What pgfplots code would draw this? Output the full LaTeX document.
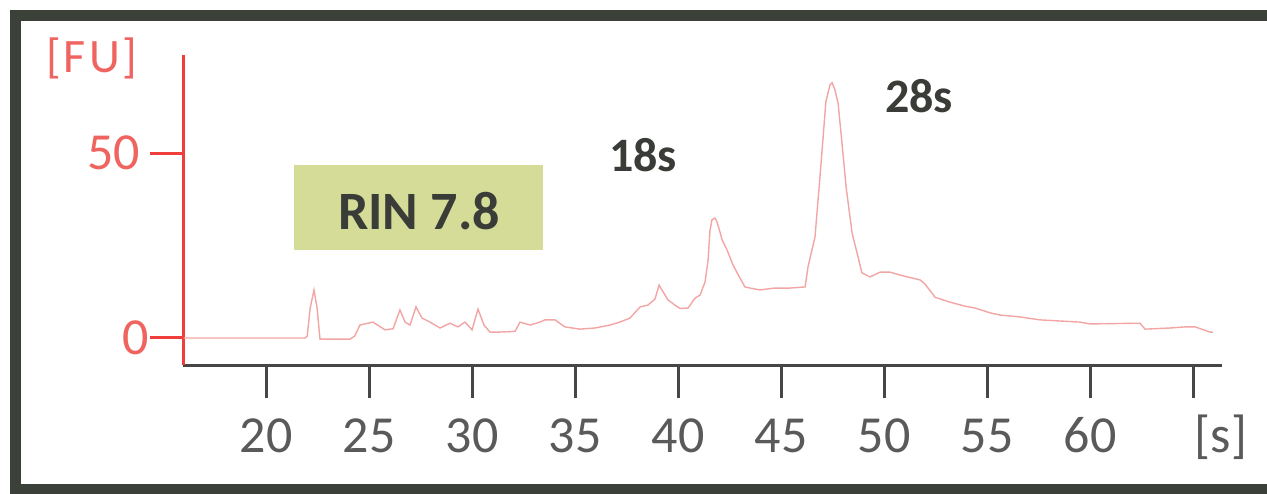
\documentclass[border=0pt]{standalone}
\usepackage{pgfplots}
\pgfplotsset{compat=1.18}
\usepackage{fontspec}
\setmainfont{Carlito}
\definecolor{framec}{RGB}{59,64,56}
\definecolor{axred}{RGB}{240,62,60}
\definecolor{labred}{RGB}{240,100,95}
\definecolor{trace}{RGB}{243,165,165}
\definecolor{axgray}{RGB}{70,70,70}
\definecolor{labgray}{RGB}{90,90,90}
\definecolor{boxfill}{RGB}{213,220,152}
\definecolor{txtdark}{RGB}{58,60,56}
\begin{document}
\begin{tikzpicture}
\begin{scope}[x=0.5bp,y=-0.5bp]
\path[use as bounding box] (0,0) rectangle (1267,494);
\fill[white] (0,0) rectangle (1267,494);
\fill[framec] (10,10) rectangle (1267,21);
\fill[framec] (10,10) rectangle (21,494);
\fill[framec] (10,484) rectangle (1267,494);
\fill[boxfill] (294,165) rectangle (543,250);
\end{scope}
\begin{axis}[
  at={(91.5bp,-182.5bp)}, anchor=south west,
  scale only axis, width=519.5bp, height=155bp,
  xmin=15.97, xmax=66.41, ymin=-7.30, ymax=76.49,
  axis x line*=bottom, axis y line*=left,
  x axis line style={-, draw=axgray, line width=1.5bp},
  y axis line style={-, draw=axred, line width=1.5bp},
  xtick={20,25,30,35,40,45,50,55,60,65},
  xticklabels={20,25,30,35,40,45,50,55,60,{}},
  ytick={0,50}, yticklabels={0\kern-4.5bp,50},
  tick align=outside, major tick length=16.5bp,
  x tick style={draw=axgray, line width=1.5bp},
  y tick style={draw=axred, line width=1.5bp},
  xticklabel style={font=\fontsize{26bp}{30bp}\selectfont, text=labgray, anchor=base, yshift=-27bp},
  yticklabel style={font=\fontsize{26bp}{30bp}\selectfont, text=labred, anchor=east, xshift=-1.5bp},
  clip=false,
]
\addplot[trace, line width=0.7bp, no marks] coordinates {
(16.0,0) (21.9,0) (22.0,0.5) (22.14,8) (22.33,13) (22.48,8) (22.62,-0.3)
(24.08,-0.3) (24.3,0.5) (24.56,3.5) (25.19,4.3) (25.78,2.2) (26.17,2.5)
(26.5,7.6) (26.75,4.3) (26.99,3.5) (27.28,8.4) (27.57,5.4) (27.96,4.3)
(28.45,2.7) (28.93,4.0) (29.32,3.0) (29.66,4.3) (30.0,2.2) (30.29,7.8)
(30.58,3.5) (30.87,1.6) (31.36,1.6) (32.09,1.8) (32.33,4.3) (32.82,3.5)
(33.30,4.3) (33.54,4.9) (34.03,4.9) (34.51,3.0) (35.24,2.4) (35.97,2.7)
(36.70,3.5) (37.18,4.3) (37.67,5.4) (38.16,8.4) (38.54,8.9) (38.88,10.5)
(39.08,14.3) (39.22,13) (39.51,10.3) (39.85,8.9) (40.10,8.0) (40.49,8.1)
(40.83,10.8) (41.07,11.6) (41.31,15.1) (41.46,21) (41.55,29) (41.65,32)
(41.80,32.4) (41.89,31.4) (42.04,28.6) (42.14,26.5) (42.38,23.8) (42.67,19.7)
(43.01,16.2) (43.25,13.8) (43.50,13.5) (43.98,13) (44.71,13.5) (45.44,13.5)
(46.17,13.8) (46.31,19.2) (46.65,27.3) (46.89,43.5) (47.04,54) (47.18,64)
(47.38,68.4) (47.48,69) (47.62,67) (47.77,63.5) (47.96,52.7) (48.16,40.8)
(48.45,28.4) (48.69,23) (48.93,17.6) (49.32,16.5) (49.81,17.8) (50.29,17.8)
(50.78,17) (51.75,15.7) (52.0,14.5) (52.48,11) (53.20,9.7) (53.93,8.6)
(54.42,8.1) (55.15,6.8) (55.63,6.2) (56.60,5.7) (57.57,4.9) (58.54,4.6)
(59.51,4.3) (60.0,3.8) (62.43,4.0) (62.67,2.4) (63.88,2.7) (64.61,3.0)
(65.10,3.0) (65.83,1.6) (65.97,1.6)
};
\end{axis}
\begin{scope}[x=0.5bp,y=-0.5bp]
\node[anchor=base, text=labred, font=\fontsize{24bp}{28bp}\selectfont, inner sep=0pt] at (92,73) {[\kern1bp F\kern2bp U\kern1bp]};
\node[anchor=base, text=labgray, font=\fontsize{26bp}{30bp}\selectfont, inner sep=0pt] at (1221,452) {[s]};
\node[anchor=base, text=txtdark, font=\bfseries\fontsize{24bp}{28bp}\selectfont, inner sep=0pt] at (643,172) {18s};
\node[anchor=base, text=txtdark, font=\bfseries\fontsize{24bp}{28bp}\selectfont, inner sep=0pt] at (919,113) {28s};
\node[anchor=base, text=txtdark, font=\bfseries\fontsize{27bp}{31bp}\selectfont, inner sep=0pt] at (419,230) {RIN 7.8};
\end{scope}
\end{tikzpicture}
\end{document}
